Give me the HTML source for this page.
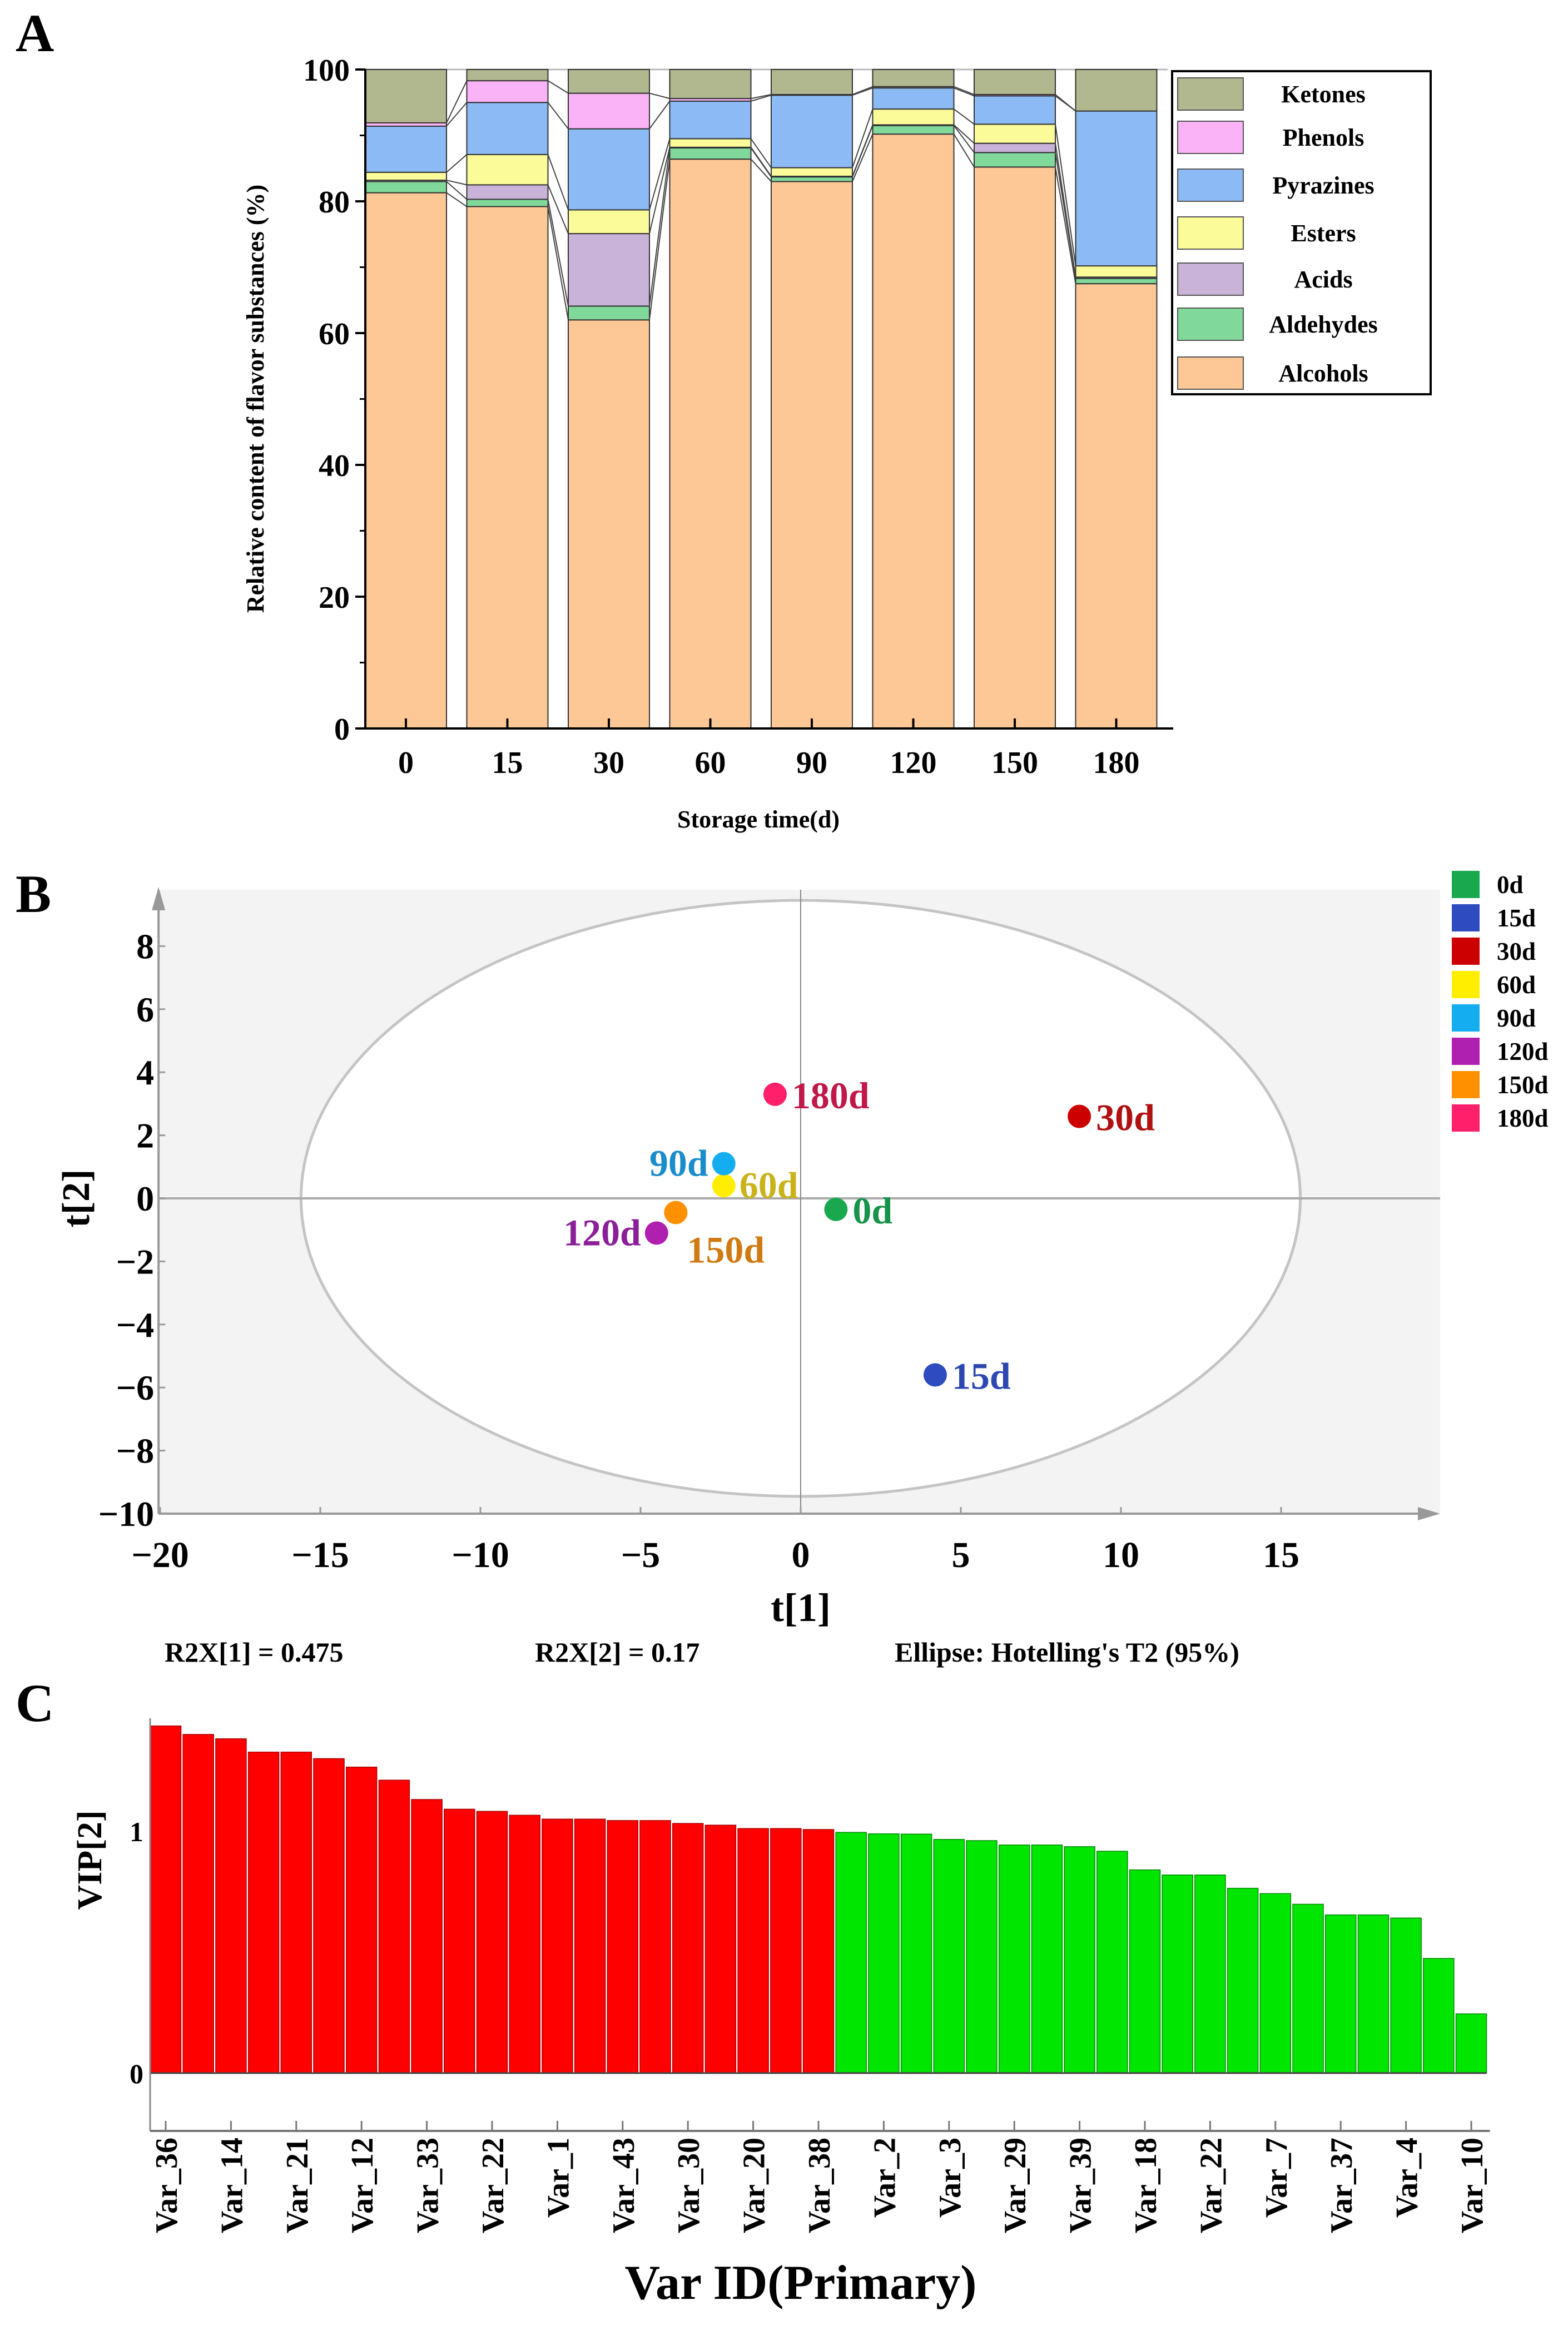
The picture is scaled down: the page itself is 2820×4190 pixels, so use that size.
<!DOCTYPE html>
<html><head><meta charset="utf-8"><style>
html,body{margin:0;padding:0;background:#fff;}
svg{display:block;}
text{font-family:"Liberation Serif",serif;font-weight:bold;}
</style></head><body>
<svg id="fig" width="2820" height="4190" viewBox="0 0 2820 4190" xmlns="http://www.w3.org/2000/svg">
<g id="panelA">
<text x="28" y="92" font-size="96">A</text>
</g>
<g id="panelB">
<text x="28" y="1640" font-size="96">B</text>
</g>
<g id="panelC">
<text x="28" y="3095" font-size="96">C</text>
</g>
</svg>
<script>
// ---------- Panel A data ----------
const aCategories = ["0","15","30","60","90","120","150","180"];
const aSeriesNames = ["Alcohols","Aldehydes","Acids","Esters","Pyrazines","Phenols","Ketones"];
const aAlcohols  = [81.3,79.2,62.0,86.4,83.0,90.2,85.2,67.5];
const aAldehydes = [1.7,1.1,2.1,1.7,0.7,1.3,2.2,0.8];
const aAcids     = [0.2,2.2,11.0,0.1,0.1,0.1,1.4,0.2];
const aEsters    = [1.2,4.6,3.6,1.3,1.3,2.4,2.9,1.7];
const aPyrazines = [7.0,7.9,12.3,5.7,11.0,3.2,4.3,23.5];
const aPhenols   = [0.5,3.3,5.4,0.4,0.1,0.2,0.2,0.0];
const aKetones   = [8.1,1.7,3.6,4.4,3.8,2.6,3.8,6.3];
const aYTicks = [0,20,40,60,80,100];
// ---------- Panel B data ----------
const bLabels = ["0d","15d","30d","60d","90d","120d","150d","180d"];
const bT1 = [1.1,4.2,8.7,-2.4,-2.4,-4.5,-3.9,-0.8];
const bT2 = [-0.35,-5.6,2.6,0.4,1.1,-1.1,-0.45,3.3];
const bXTicks = [-20,-15,-10,-5,0,5,10,15];
const bYTicks = [-10,-8,-6,-4,-2,0,2,4,6,8];
// ---------- Panel C data ----------
const cLabels = ["Var_36","","Var_14","","Var_21","","Var_12","","Var_33","","Var_22","","Var_1","","Var_43","","Var_30","","Var_20","","Var_38","","Var_2","","Var_3","","Var_29","","Var_39","","Var_18","","Var_22","","Var_7","","Var_37","","Var_4","","Var_10"];
const cValues = [1.435,1.40,1.382,1.327,1.327,1.30,1.265,1.211,1.131,1.091,1.082,1.066,1.05,1.05,1.044,1.044,1.032,1.025,1.011,1.011,1.007,
0.995,0.989,0.988,0.966,0.961,0.943,0.943,0.936,0.917,0.84,0.819,0.819,0.764,0.742,0.698,0.654,0.654,0.641,0.474,0.245];
const cYTicks = [0,1];

const NS="http://www.w3.org/2000/svg";
function mk(parent,tag,attrs,txt){const e=document.createElementNS(NS,tag);for(const k in attrs)e.setAttribute(k,attrs[k]);if(txt!==undefined)e.textContent=txt;parent.appendChild(e);return e;}

// ===== Panel A =====
(function(){
const g=document.getElementById('panelA');
const x0=657, yTop=125, yBot=1310, step=182.5, bw=146, xEnd=2110;
const yA=v=>yBot-(v/100)*(yBot-yTop);
const xA=i=>730+i*step;
const colors=["#fdc896","#80d89a","#c9b3d8","#fbfb9a","#8cbaf5","#fbb3f7","#b1b78f"];
const series=[aAlcohols,aAldehydes,aAcids,aEsters,aPyrazines,aPhenols,aKetones];
let l=mk(g,'line',{x1:x0,y1:yTop,x2:2100,y2:yTop,stroke:"#bbb","stroke-width":3});


const cum=aCategories.map((c,i)=>{let s=0;return series.map(sr=>{const b=s;s+=sr[i];return [b,s];});});
aCategories.forEach((c,i)=>{
 series.forEach((sr,k)=>{
  const [b,t]=cum[i][k]; if(t-b<=0) return;
  const r=mk(g,'rect',{x:xA(i)-bw/2,y:yA(t),width:bw,height:yA(b)-yA(t),fill:colors[k],stroke:"#333","stroke-width":2});
  
  
 });
 if(i<aCategories.length-1){
  for(let k=0;k<series.length-1;k++){
   const ln=mk(g,'line',{x1:xA(i)+bw/2,y1:yA(cum[i][k][1]),x2:xA(i+1)-bw/2,y2:yA(cum[i+1][k][1]),stroke:"#444","stroke-width":2});
   
   
  }
 }
 const tl=mk(g,'text',{x:xA(i),y:1390,"font-size":56,"text-anchor":"middle"},c);
 
 
 const tk=mk(g,'line',{x1:xA(i),y1:yBot,x2:xA(i),y2:yBot-18,stroke:"#000","stroke-width":4});
 
 
});
let ax=mk(g,'line',{x1:x0,y1:yTop,x2:x0,y2:yBot,stroke:"#000","stroke-width":4});


ax=mk(g,'line',{x1:x0,y1:yBot,x2:xEnd,y2:yBot,stroke:"#000","stroke-width":4});


aYTicks.forEach(v=>{
 const t=mk(g,'line',{x1:x0-18,y1:yA(v),x2:x0,y2:yA(v),stroke:"#000","stroke-width":4});
 
 
 const tl=mk(g,'text',{x:x0-28,y:yA(v)+20,"font-size":56,"text-anchor":"end"},String(v));
 
 
 if(v<100){const m=mk(g,'line',{x1:x0-10,y1:yA(v+10),x2:x0,y2:yA(v+10),stroke:"#000","stroke-width":3});
 
 }
});
let yt=mk(g,'text',{x:0,y:0,"font-size":44,"text-anchor":"middle",transform:"translate(474,717) rotate(-90)"},"Relative content of flavor substances (%)");


let xt=mk(g,'text',{x:1364,y:1488,"font-size":44,"text-anchor":"middle"},"Storage time(d)");


const lg=mk(g,'g',{});


mk(lg,'rect',{x:2108,y:128,width:465,height:581,fill:"#fff",stroke:"#000","stroke-width":4});
const ly=[169,247,333,419,502,583,671];
for(let k=6;k>=0;k--){
 const row=6-k;
 const e=mk(lg,'g',{});
 
 
 mk(e,'rect',{x:2118,y:ly[row]-29,width:118,height:58,fill:colors[k],stroke:"#555","stroke-width":2});
 mk(e,'text',{x:2380,y:ly[row]+15,"font-size":44,"text-anchor":"middle"},aSeriesNames[k]);
}
})();

// ===== Panel B =====
(function(){
const g=document.getElementById('panelB');
const X0=1440, ux=57.6, Y0=2155, uy=56.7;
const xB=v=>X0+v*ux, yB=v=>Y0-v*uy;
const L=xB(-20.05), R=2590, T=1600, Bt=yB(-10);
let r=mk(g,'rect',{x:L,y:T,width:R-L,height:Bt-T,fill:"#f3f3f3"});


let el=mk(g,'ellipse',{cx:xB(0),cy:yB(0),rx:15.6*ux,ry:9.45*uy,fill:"#fff",stroke:"#c4c4c4","stroke-width":5});


let h=mk(g,'line',{x1:L,y1:yB(0),x2:R,y2:yB(0),stroke:"#aaa","stroke-width":4});


h=mk(g,'line',{x1:xB(0),y1:T,x2:xB(0),y2:Bt,stroke:"#888","stroke-width":2});


let ax=mk(g,'line',{x1:L,y1:Bt,x2:2575,y2:Bt,stroke:"#999","stroke-width":4});


ax=mk(g,'polygon',{points:`2590,${Bt} 2550,${Bt-12} 2550,${Bt+12}`,fill:"#999"});


ax=mk(g,'line',{x1:L,y1:Bt,x2:L,y2:1615,stroke:"#999","stroke-width":4});


ax=mk(g,'polygon',{points:`${L},1595 ${L-12},1637 ${L+12},1637`,fill:"#999"});


bXTicks.forEach(v=>{
 const t=mk(g,'line',{x1:xB(v),y1:Bt,x2:xB(v),y2:Bt-12,stroke:"#999","stroke-width":3});
 
 
 const tl=mk(g,'text',{x:xB(v),y:2818,"font-size":66,"text-anchor":"middle"},v<0?"\u2212"+(-v):String(v));
 
 
});
bYTicks.forEach(v=>{
 const t=mk(g,'line',{x1:L,y1:yB(v),x2:L+12,y2:yB(v),stroke:"#999","stroke-width":3});
 
 
 const tl=mk(g,'text',{x:L-8,y:yB(v)+22,"font-size":64,"text-anchor":"end"},v<0?"\u2212"+(-v):String(v));
 
 
});
let t=mk(g,'text',{x:0,y:0,"font-size":70,"text-anchor":"middle",transform:`translate(160,${Y0}) rotate(-90)`},"t[2]");


t=mk(g,'text',{x:xB(0),y:2915,"font-size":72,"text-anchor":"middle"},"t[1]");


[["R2X[1] = 0.475",296,"r2x1-text"],["R2X[2] = 0.17",962,"r2x2-text"],["Ellipse: Hotelling's T2 (95%)",1609,"ellipse-note-text"]].forEach(a=>{
 const e=mk(g,'text',{x:a[1],y:2988,"font-size":50},a[0]);
 
 
});
const pc=["#1aa84f","#2e4bc0","#cc0000","#ffee00","#14aef0","#b020b0","#ff9000","#ff1f6a"];
const tc=["#17934a","#2c47b0","#b01010","#c9b21a","#1a8ccc","#8a2098","#d07a12","#c01848"];
const off=[[30,25,"start"],[30,25,"start"],[30,25,"start"],[28,22,"start"],[-28,22,"end"],[-28,22,"end"],[20,90,"start"],[30,25,"start"]];
bLabels.forEach((lab,i)=>{
 const c=mk(g,'circle',{cx:xB(bT1[i]),cy:yB(bT2[i]),r:21,fill:pc[i]});
 
 
 const tl=mk(g,'text',{x:xB(bT1[i])+off[i][0],y:yB(bT2[i])+off[i][1],"font-size":68,fill:tc[i],"text-anchor":off[i][2]},lab);
 
 
 const le=mk(g,'g',{});
 
 
 mk(le,'rect',{x:2611,y:1566+i*60,width:50,height:49,fill:pc[i]});
 mk(le,'text',{x:2692,y:1606+i*60,"font-size":45},lab);
});
})();

// ===== Panel C =====
(function(){
const g=document.getElementById('panelC');
const yZ=3728, u=435, xAx=270, xBase=298, st=58.7, bw=55, axY=3832;
const yC=v=>yZ-v*u;
const xC=i=>xBase+i*st;
cValues.forEach((v,i)=>{
 const r=mk(g,'rect',{x:xC(i)-bw/2,y:yC(v),width:bw,height:yZ-yC(v),fill:i<21?"#ff0000":"#00e600",stroke:i<21?"#a00":"#080","stroke-width":1.5});
 
 
 if(cLabels[i]){
  const tk=mk(g,'line',{x1:xC(i),y1:axY,x2:xC(i),y2:axY-18,stroke:"#777","stroke-width":3});
  
  
  const tl=mk(g,'text',{x:0,y:0,"font-size":56,"text-anchor":"end",transform:`translate(${xC(i)+20},${axY+12}) rotate(-90)`},cLabels[i]);
  
  
 }
});
let z=mk(g,'line',{x1:xAx,y1:yZ,x2:xC(40)+bw/2,y2:yZ,stroke:"#444","stroke-width":3});


z=mk(g,'line',{x1:xAx,y1:3090,x2:xAx,y2:axY,stroke:"#888","stroke-width":3});


z=mk(g,'line',{x1:xAx,y1:axY,x2:xC(40)+bw/2+6,y2:axY,stroke:"#777","stroke-width":4});


cYTicks.forEach(v=>{
 const tl=mk(g,'text',{x:258,y:yC(v)+18,"font-size":50,"text-anchor":"end","font-weight":"normal"},String(v));
 
 
});
let t=mk(g,'text',{x:0,y:0,"font-size":62,"text-anchor":"middle",transform:"translate(182,3345) rotate(-90)"},"VIP[2]");


t=mk(g,'text',{x:1440,y:4134,"font-size":88,"text-anchor":"middle"},"Var ID(Primary)");


})();
</script>
</body></html>
